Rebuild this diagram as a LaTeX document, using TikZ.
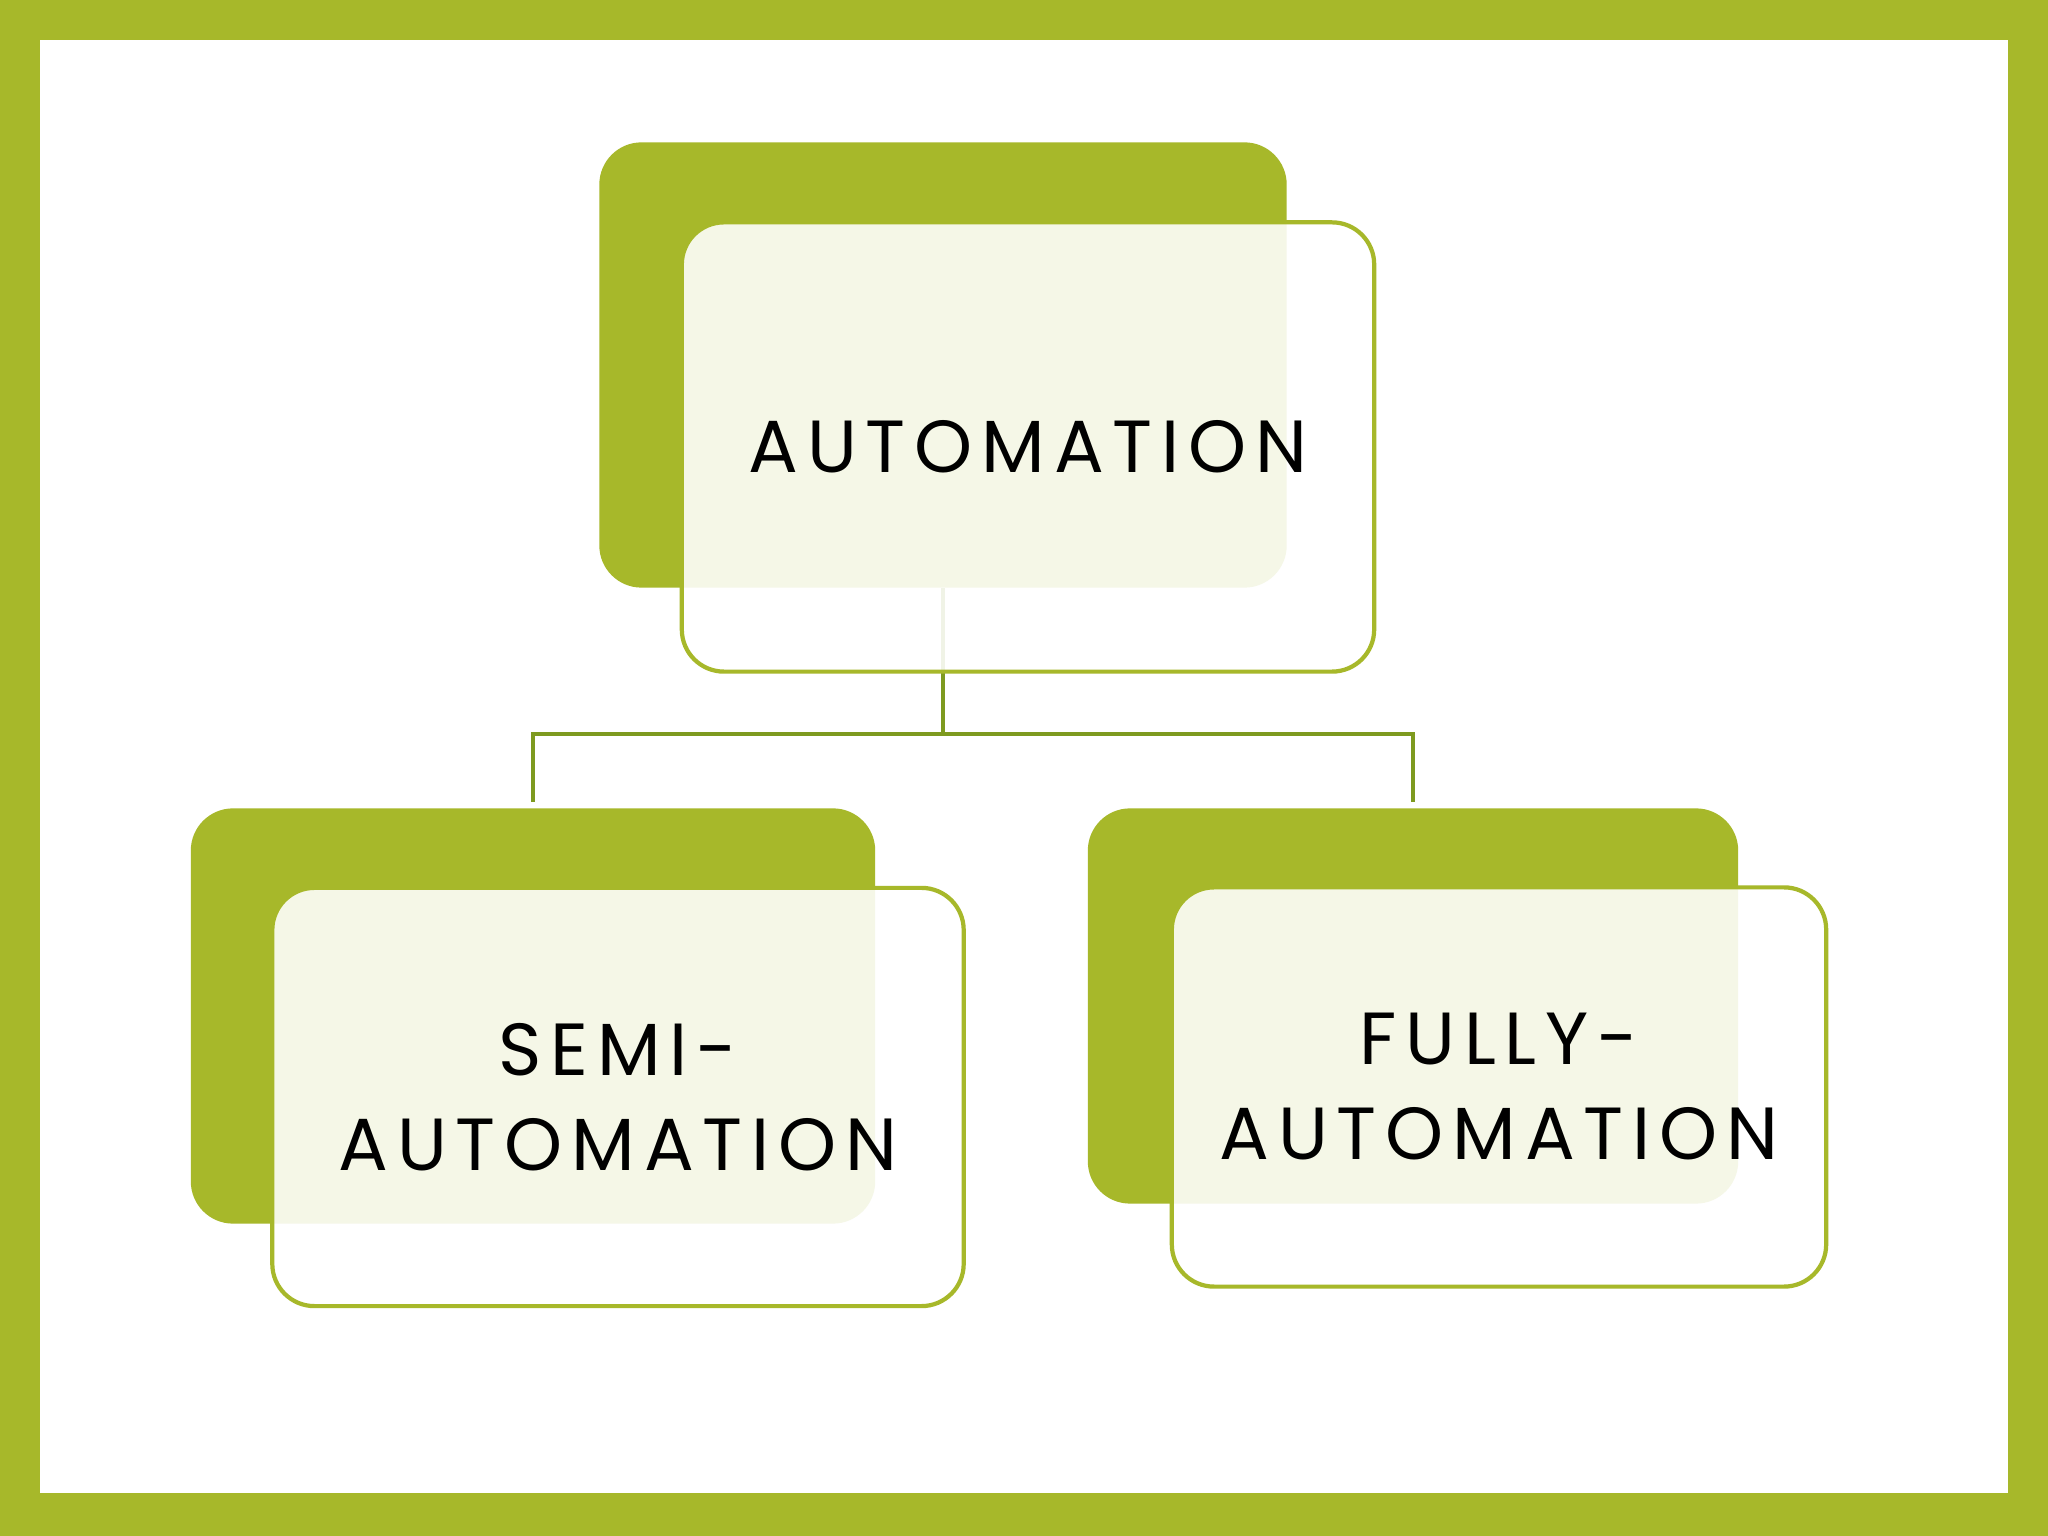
\documentclass[tikz,border=0pt]{standalone}
\usepackage{fontspec}
\setmainfont{Poppins}[LetterSpace=12]
\usetikzlibrary{positioning}
\definecolor{cgreen}{HTML}{A7B82A}
\definecolor{cline}{HTML}{7E9A1F}
\tikzset{
  backbox/.style={fill=cgreen, rounded corners=12pt, inner sep=0pt},
  frontbox/.style={draw=cgreen, line width=1.2pt, fill=white, fill opacity=0.89, text opacity=1,
    rounded corners=12pt, inner sep=0pt, align=center, font=\fontsize{21}{27}\selectfont},
  link/.style={draw=cline, line width=1.2pt},
}
\begin{document}
\begin{tikzpicture}[x=0.01cm, y=0.01cm]
  % frame
  \fill[cgreen] (0,0) rectangle (2048,1536);
  \fill[white] (40,43) rectangle (2008,1496);
  % shadow boxes
  \node[backbox, minimum width=6.87cm, minimum height=4.45cm] (topback) at (943,1171) {};
  \node[backbox, minimum width=6.84cm, minimum height=4.15cm] (leftback) at (533,520) {};
  \node[backbox, minimum width=6.50cm, minimum height=3.95cm] (rightback) at (1413,530) {};
  % connectors
  \coordinate (split) at (943,802);
  \draw[link] (topback.south) -- (split) -| ([yshift=1.5pt]leftback.north);
  \draw[link] (split) -| ([yshift=1.5pt]rightback.north);
  % front boxes
  \node[frontbox, minimum width=6.92cm, minimum height=4.49cm] (topfront) at (1028,1089) {AUTOMATION};
  \node[frontbox, minimum width=6.91cm, minimum height=4.18cm] (leftfront) at (618,439) {SEMI-\\AUTOMATION};
  \node[frontbox, minimum width=6.54cm, minimum height=3.99cm] (rightfront) at (1499,449) {FULLY-\\AUTOMATION};
\end{tikzpicture}
\end{document}
